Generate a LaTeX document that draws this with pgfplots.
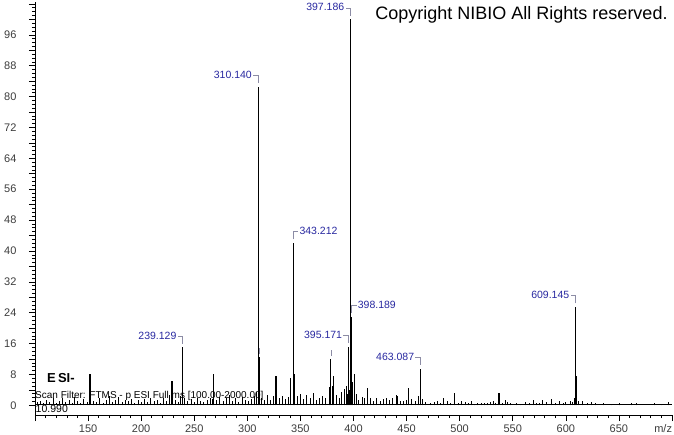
\documentclass[border=0pt]{standalone}
\usepackage{pgfplots}
\pgfplotsset{compat=1.18}
\usepackage{fontspec}
\setmainfont{Liberation Sans}

\definecolor{lblblue}{RGB}{40,40,160}
\definecolor{brkgray}{RGB}{140,140,165}
\definecolor{tickgray}{RGB}{60,60,60}

% peak label, text to the left / to the right of the bracket
\newcommand{\pkL}[3]{\draw[brkgray,line width=0.6pt] (axis cs:#1,#2) ++(0pt,3.5pt) -- ++(0pt,8pt) -- ++(-5pt,0pt)
  node[anchor=east,inner sep=1pt,yshift=0.5pt,text=lblblue,font=\fontsize{10.5}{12}\selectfont] {#3};}
\newcommand{\pkR}[3]{\draw[brkgray,line width=0.6pt] (axis cs:#1,#2) ++(0pt,3.5pt) -- ++(0pt,8pt) -- ++(5pt,0pt)
  node[anchor=west,inner sep=1pt,yshift=0.5pt,text=lblblue,font=\fontsize{10.5}{12}\selectfont] {#3};}

\pgfplotstableread{
mz inten
102 0.8
105 1.2
108 0.6
111 1.5
114 0.9
117 1.8
120 0.7
123 1.1
126 2.0
129 0.8
132 1.4
135 0.6
137 2.2
140 1.0
143 0.7
146 1.6
149 0.9
155 1.2
158 0.8
161 1.9
164 0.7
167 1.3
170 2.4
173 0.9
176 1.5
179 2.1
182 0.8
185 1.4
188 1.0
191 1.7
194 0.6
197 1.3
200 0.9
203 1.6
206 0.8
209 2.0
212 1.1
215 1.4
218 0.7
221 1.8
224 1.2
227 2.6
232 1.5
235 0.9
237 2.3
241 1.8
244 1.0
247 1.6
250 0.8
253 1.9
256 1.2
259 0.9
262 1.5
265 2.0
267 1.7
271 1.4
274 2.2
277 1.0
280 1.8
283 2.6
286 1.2
289 1.9
292 0.8
295 2.1
298 1.3
301 1.0
304 1.7
307 2.4
308.5 3.5
313 2.0
316 1.4
319 2.8
322 1.5
325 2.3
330 1.8
333 2.5
336 1.6
339 2.2
347 2.4
350 3.0
353 1.6
356 2.8
359 2.0
362 3.2
365 1.5
368 1.8
371 2.4
374 1.9
377 4.8
380 5.0
384 2.6
387 1.9
389 3.5
391 4.2
393 5.0
394.2 3.0
396 4.0
399.2 6.0
403 3.0
405 1.5
408 2.2
410 1.8
416 1.8
419 1.2
422 2.0
425 1.0
428 1.6
431 1.8
434 1.3
437 2.0
440 2.6
441 2.5
444 1.2
447 1.0
450 1.5
455 1.6
458 1.0
461 2.5
465 1.6
468 0.8
472 0.5
476 0.8
479 1.2
482 0.6
485 1.8
488 1.0
491 0.7
499 0.6
502 1.0
505 0.8
508 0.6
511 1.0
514 0.4
517 0.6
520 0.5
523 0.6
526 0.5
529 0.8
532 1.0
534 0.6
540 0.7
543 1.4
545 0.8
548 0.5
553 0.6
557 0.4
562 0.8
566 0.6
569 1.3
572 0.7
575 0.5
578 1.4
582 0.8
586 1.6
590 0.7
594 1.2
598 0.5
600 0.9
604 1.0
606 0.8
608 2.0
612 1.2
616 1.0
620 0.6
624 0.9
628 0.5
635 0.6
643 0.4
650 0.5
662 0.5
666 0.6
683 0.5
690 0.4
697 0.8
}\noisetab

\pgfplotstableread{
mz inten
151.8 8.0
229.0 6.4
239.129 15.0
268.5 8.0
310.140 82.6
311.2 12.4
327.0 7.6
341.0 7.0
343.212 42.1
344.3 8.0
378.7 12.0
381.5 7.7
395.171 15.2
397.186 100
398.189 23.0
401.0 8.0
413.6 4.6
452.0 4.6
463.087 9.5
495.5 3.1
537.0 3.1
609.145 25.5
610.4 7.5
}\peaktab

\begin{document}
\begin{tikzpicture}
\begin{axis}[
  scale only axis,
  width=637pt, height=413pt,
  xmin=100, xmax=700,
  ymin=-2.5, ymax=104.5,
  axis lines*=left,
  axis line style={black, line width=0.8pt},
  tick align=outside,
  major tick length=6pt,
  minor tick length=3pt,
  tick style={black, line width=0.6pt},
  xtick={100,150,...,700},
  xticklabels={,150,200,250,300,350,400,450,500,550,600,650,{\makebox[0pt][r]{m/z}}},
  minor x tick num=4,
  ytick={0,4,...,104},
  yticklabels={0,,8,,16,,24,,32,,40,,48,,56,,64,,72,,80,,88,,96,,},
  minor y tick num=3,
  ticklabel style={font=\fontsize{11}{12}\selectfont, text=tickgray},
  /pgf/number format/assume math mode=true,
  yticklabel style={xshift=-9pt},
  clip=false,
]
\addplot[black, line width=1pt] coordinates {(100,0.15) (700,0.15)};
\addplot[ycomb, black, line width=0.8pt, mark=none] table[x=mz,y=inten] {\noisetab};
\addplot[ycomb, black, line width=1.1pt, mark=none] table[x=mz,y=inten] {\peaktab};

\pkL{397.186}{100}{397.186}
\pkL{310.140}{82.6}{310.140}
\pkR{343.212}{42.1}{343.212}
\pkR{398.189}{23.0}{398.189}
\pkL{395.171}{15.2}{395.171}
\pkL{463.087}{9.5}{463.087}
\pkL{609.145}{25.5}{609.145}
\pkL{239.129}{15.0}{239.129}
\draw[brkgray,line width=0.6pt] (axis cs:311.2,12.4) ++(0pt,3pt) -- ++(0pt,6pt);
\draw[brkgray,line width=0.6pt] (axis cs:378.7,12.0) ++(0pt,3pt) -- ++(0pt,6pt);

\node[anchor=base east, inner sep=0pt, font=\fontsize{18}{20}\selectfont] at (axis cs:696,99.9) {Copyright NIBIO All Rights reserved.};
\node[anchor=west, inner sep=0pt, font=\fontsize{13}{15}\selectfont\bfseries] at (axis cs:111.3,7.1) {E\,SI-};
\node[anchor=west, inner sep=0pt, font=\fontsize{10}{12}\selectfont] at (axis cs:100,2.5) {Scan Filter: FTMS - p ESI Full ms [100.00-2000.00]};
\node[anchor=west, inner sep=0pt, font=\fontsize{10.5}{12}\selectfont] at (axis cs:100.5,-0.8) {10.990};
\end{axis}
\pgfresetboundingbox
\useasboundingbox (-35pt,-19pt) rectangle (639pt,415pt);
\end{tikzpicture}
\end{document}
